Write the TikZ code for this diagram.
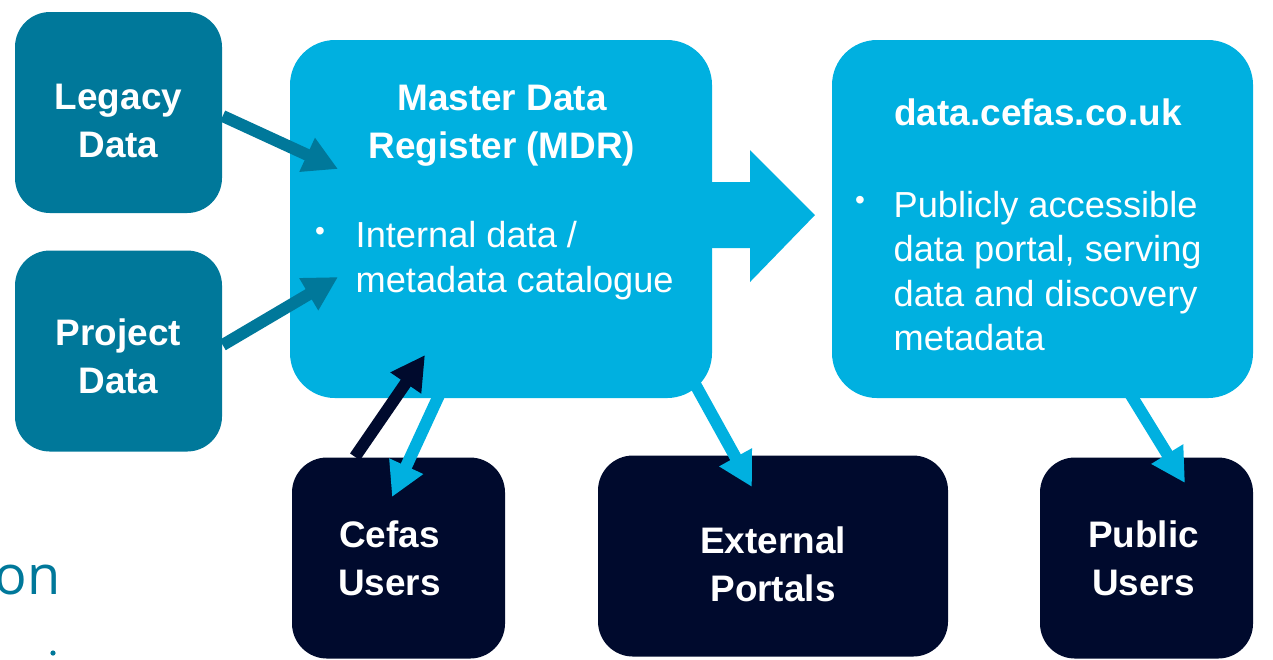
\documentclass[tikz,border=0pt]{standalone}
\usepackage{fontspec}
\setmainfont{Liberation Sans}
\newfontfamily\onfont{Open Sans}
\usetikzlibrary{arrows.meta,positioning}
\definecolor{srcteal}{HTML}{00789A}
\definecolor{mdrblue}{HTML}{00B0E0}
\definecolor{usernavy}{HTML}{000A2D}

\begin{document}
\begin{tikzpicture}[x=0.1mm, y=-0.1mm,
  box/.style = {rounded corners=3.5mm, inner sep=0pt},
  bigbox/.style = {box, rounded corners=4.5mm, fill=mdrblue},
  srcbox/.style = {box, fill=srcteal, minimum width=20.7mm, minimum height=20.1mm},
  userbox/.style = {box, fill=usernavy, minimum height=20.1mm},
  title/.style = {inner sep=0pt, align=center, text=white,
                  font=\fontsize{10.5}{13.7}\selectfont\bfseries},
  list/.style = {inner sep=0pt, anchor=west, align=left, text=white,
                 font=\fontsize{10.3}{12.8}\selectfont},
  dot/.style = {inner sep=0pt, text=white, font=\fontsize{8}{8}\selectfont},
  link/.style = {line width=1.2mm, -{Triangle[width=3.5mm, length=3.4mm]}}]
\useasboundingbox (0,0) rectangle (1273,659);

% sources
\node[srcbox] (legacy) at (118.5,112.5) {};
\node[srcbox] (project) at (118.5,351) {};
\node[title] (legacytxt) at ([yshift=-0.85mm]legacy.center) {Legacy\\Data};
\node[title] (projecttxt) at ([yshift=-0.5mm]project.center) {Project\\Data};

% registers
\node[bigbox, minimum width=42.2mm, minimum height=35.8mm] (mdr) at (501,219) {};
\node[bigbox, minimum width=42.1mm, minimum height=35.8mm] (portal) at (1042.5,219) {};
\node[title] (mdrtitle) at (502,126) {Master Data\\Register (MDR)};
\node[dot] (mdrdot) at (320,234) {\textbullet};
\node[list] (mdrlist) at (355,261) {Internal data /\\metadata catalogue};
\node[title] (portaltitle) at (1038,112) {data.cefas.co.uk};
\node[dot] (portaldot) at (860,203) {\textbullet};
\node[list, font=\fontsize{10.3}{12.7}\selectfont] (portallist) at (893,271)
  {Publicly accessible\\data portal, serving\\data and discovery\\metadata};

% users
\node[userbox, minimum width=21.3mm] (cusers) at (398.5,558) {};
\node[userbox, minimum width=35mm] (external) at (773,556) {};
\node[userbox, minimum width=21.3mm] (public) at (1146.5,558) {};
\node[title] (cuserstxt) at ([xshift=-0.9mm]cusers.center) {Cefas\\Users};
\node[title] (externaltxt) at ([yshift=-0.8mm]external.center) {External\\Portals};
\node[title] (publictxt) at ([xshift=-0.3mm]public.center) {Public\\Users};

% ends of the connectors
\coordinate (legin) at (338,169);
\coordinate (projin) at (338,277);
\coordinate (mdrin) at (425,355);
\coordinate (cusin) at (392,497);
\coordinate (extin) at (752,487);
\coordinate (pubin) at (1185,483);

% push to the portal
\fill[mdrblue] (700,182) -- (750,182) -- (750,150) -- (815,215)
  -- (750,282) -- (750,248) -- (700,248) -- cycle;

\draw[link, srcteal] ([yshift=-0.35mm]legacy.east) -- (legin);
\draw[link, srcteal] ([yshift=0.6mm]project.east) -- (projin);
\draw[link, usernavy] ([xshift=-4.35mm]cusers.north) -- (mdrin);
\draw[link, mdrblue] ([xshift=-5.9mm, yshift=1mm]mdr.south) -- (cusin);
\draw[link, mdrblue] ([xshift=-2.4mm, yshift=2.6mm]mdr.south east) -- (extin);
\draw[link, mdrblue] ([xshift=8.45mm, yshift=1mm]portal.south) -- (pubin);

% cut-off text at the left
\node[anchor=base east, inner sep=0pt, text=srcteal, font=\onfont\fontsize{15.4}{18}\selectfont]
  (ontext) at (61,594) {on};
\fill[srcteal] (53,653) circle (2.6);
\end{tikzpicture}
\end{document}
